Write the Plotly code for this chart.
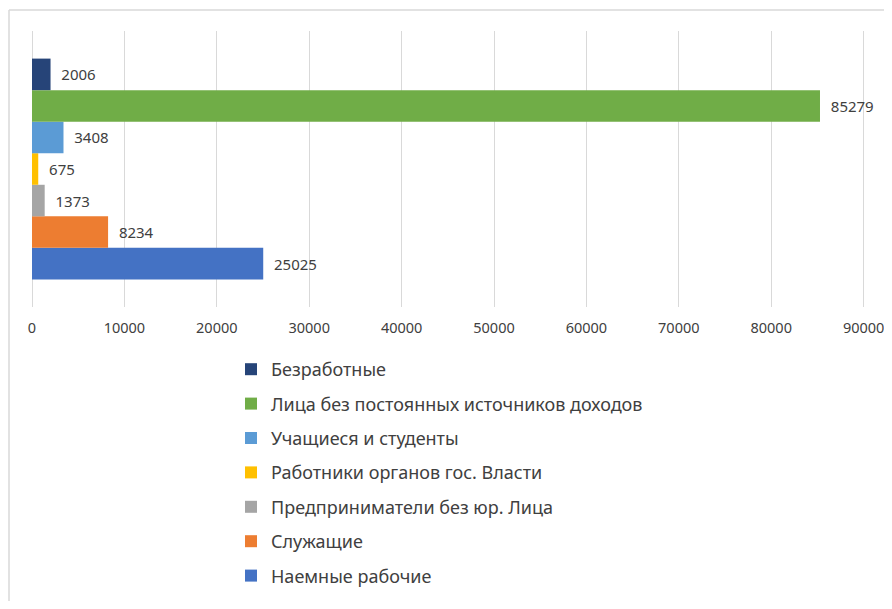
import plotly.graph_objects as go

# Data (top-to-bottom as in the reference legend)
categories = ["Безработные",
              "Лица без постоянных источников доходов",
              "Учащиеся и студенты",
              "Работники органов гос. Власти",
              "Предприниматели без юр. Лица",
              "Служащие",
              "Наемные рабочие"]
values = [2006, 85279, 3408, 675, 1373, 8234, 25025]
colors = ["#264478", "#70AD47", "#5B9BD5", "#FFC000", "#A5A5A5", "#ED7D31", "#4472C4"]
x_ticks = [0, 10000, 20000, 30000, 40000, 50000, 60000, 70000, 80000, 90000]

# page has an 8px body margin, so the figure sits at (8, 8)
W, H = 876, 593
L, T = 24, 23
R = W - 857
B = H - 299
pw, ph = W - L - R, H - T - B

fig = go.Figure()
# plotly puts the first grouped trace at the bottom, so add in reverse
items = list(enumerate(zip(categories, values, colors)))
for rank, (name, val, col) in reversed(items):
    fig.add_trace(go.Bar(
        x=[val], y=[0], orientation="h", name=name,
        marker=dict(color=col, line=dict(width=0)),
        text=["\u00a0\u00a0" + str(val)], textposition="outside",
        textfont=dict(size=15, color="#404040", family="Noto Sans"),
        cliponaxis=False, legendgroup=name, legendrank=rank + 1,
    ))

# frame lines (light grey border of the chart area)
fx = (1 - L) / pw
fy = (H - B - 2) / ph
fig.add_shape(type="line", xref="paper", yref="paper", x0=fx, x1=1.2, y0=fy, y1=fy,
              line=dict(color="#d9d9d9", width=1.5))
fig.add_shape(type="line", xref="paper", yref="paper", x0=fx, x1=fx, y0=fy, y1=-1.2,
              line=dict(color="#d9d9d9", width=1.5))

fig.update_layout(
    width=W, height=H,
    margin=dict(l=L, r=R, t=T, b=B, autoexpand=False),
    paper_bgcolor="white", plot_bgcolor="white",
    barmode="group", bargap=0.2, bargroupgap=0,
    font=dict(family="Noto Sans", color="#404040"),
    xaxis=dict(range=[0, 90150], tickvals=x_ticks, ticktext=[str(v) for v in x_ticks],
               showgrid=True, gridcolor="#d9d9d9", gridwidth=1,
               zeroline=True, zerolinecolor="#d9d9d9", zerolinewidth=1,
               showline=False, ticks="outside", ticklen=8, tickcolor="rgba(0,0,0,0)",
               ticklabeloverflow="allow",
               tickfont=dict(size=14.5, color="#404040"), fixedrange=True, automargin=False),
    yaxis=dict(range=[-0.5, 0.5], showticklabels=False, showgrid=False,
               zeroline=False, fixedrange=True, automargin=False),
    showlegend=True,
    legend=dict(x=(223 - L) / pw, xanchor="left", y=(H - B - 343) / ph, yanchor="top",
                traceorder="grouped", tracegroupgap=8,
                font=dict(size=18, color="#404040", family="Noto Sans"),
                itemwidth=30, bgcolor="rgba(0,0,0,0)"),
)

fig.write_html("out.html")
